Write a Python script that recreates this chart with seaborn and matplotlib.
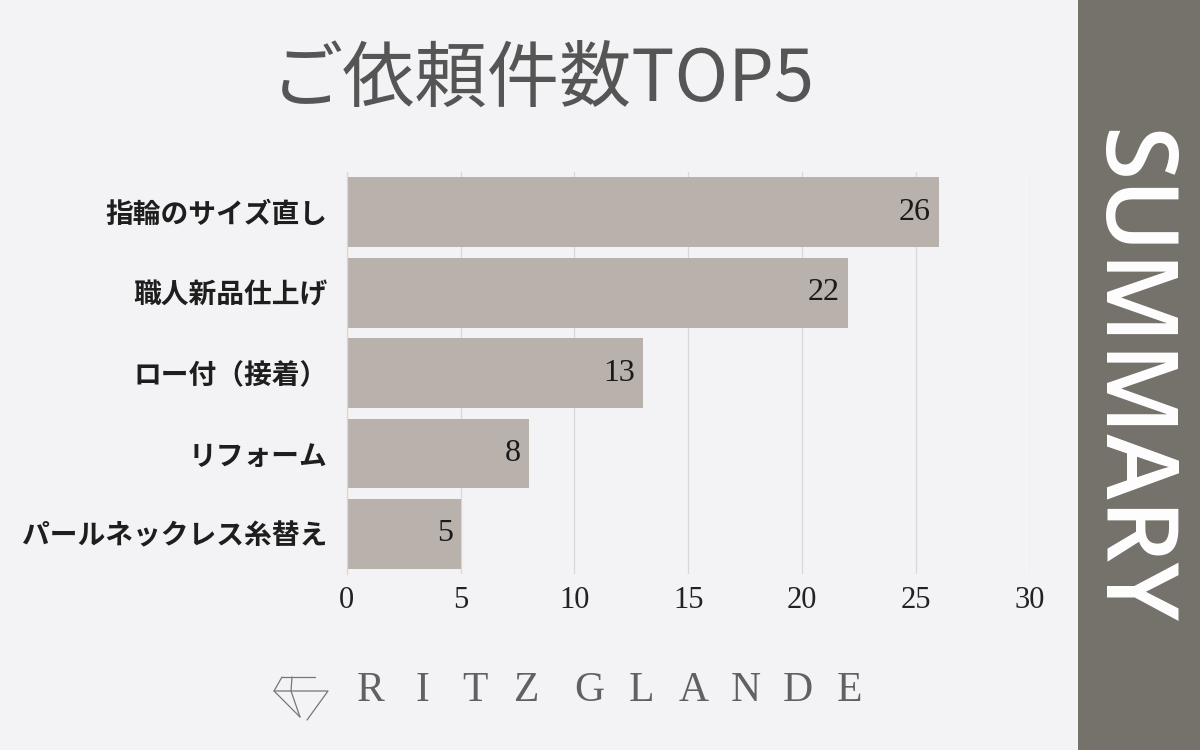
import matplotlib
matplotlib.use("Agg")
import matplotlib.pyplot as plt
from matplotlib.lines import Line2D
from matplotlib.patches import Rectangle
import seaborn as sns
import pandas as pd

# data
categories = ["指輪のサイズ直し", "職人新品仕上げ", "ロー付（接着）", "リフォーム", "パールネックレス糸替え"]
counts = [26, 22, 13, 8, 5]
x_ticks = [0, 5, 10, 15, 20, 25, 30]

title = "ご依頼件数TOP5"
side_label = "SUMMARY"
brand = "RITZ GLANDE"

bg_color = "#f3f2f4"
bar_color = "#b9b1ab"
band_color = "#75716b"

sns.set_theme(style="white")
plt.rcParams["font.family"] = ["Noto Sans CJK JP", "DejaVu Sans"]

df = pd.DataFrame({"item": categories, "count": counts})

fig = plt.figure(figsize=(12, 7.5), dpi=100)
fig.patch.set_facecolor(bg_color)

ax = fig.add_axes([0.289, 0.2347, 0.569, 0.5356])
ax.set_facecolor("none")

sns.barplot(data=df, x="count", y="item", orient="h", color=bar_color,
            saturation=1, width=0.87, linewidth=0, ax=ax, zorder=2)

ax.set_xlim(0, 30)
ax.set_ylim(4.5, -0.5)
ax.set_xticks(x_ticks)
ax.set_xticklabels([str(t) for t in x_ticks], family="Liberation Serif",
                   fontsize=22, color="#222222")
ax.tick_params(axis="x", length=0, pad=9)
ax.tick_params(axis="y", length=0, pad=14)
for lbl in ax.get_yticklabels():
    lbl.set_fontsize(20)
    lbl.set_fontweight("bold")
    lbl.set_color("#1e1e1e")
ax.set_xlabel("")
ax.set_ylabel("")

ax.grid(axis="x", color="#d9d7db", linewidth=0.9, zorder=0)
ax.grid(axis="y", visible=False)
for side in ["top", "right", "bottom"]:
    ax.spines[side].set_visible(False)
ax.spines["left"].set_color("#d9d7db")
ax.spines["left"].set_linewidth(0.9)

# value labels inside the bar ends
for patch in ax.patches:
    w = patch.get_width()
    yc = patch.get_y() + patch.get_height() / 2
    ax.text(w - 0.35, yc, f"{int(round(w))}", ha="right", va="center",
            family="Liberation Serif", fontsize=23, color="#1a1a1a", zorder=3)

# title
fig.text(0.452, 0.893, title, ha="center", va="center", fontsize=52,
         color="#555555", family=["Noto Sans CJK JP", "DejaVu Sans"])

# right side band
fig.add_artist(Rectangle((0.898, 0), 0.102, 1, transform=fig.transFigure,
                         facecolor=band_color, edgecolor="none", zorder=0))
fig.text(0.939, 0.497, side_label, rotation=-90, ha="center", va="center",
         fontsize=71, color="white", family="Open Sans", fontweight="semibold")


# brand logo: small diamond outline and spaced letters
def px_line(xs, ys):
    fig.add_artist(Line2D([x / 1200 for x in xs], [1 - y / 750 for y in ys],
                          transform=fig.transFigure, color="#77757a", linewidth=0.9))


px_line([282, 315], [677, 677])
px_line([282, 274, 328, 307], [677, 691, 691, 720])
px_line([274, 300], [691, 717])
px_line([292, 291, 300], [677, 691, 717])

x0 = 0.309
step = 0.0434
pos = x0
for ch in brand:
    if ch == " ":
        pos += step * 0.2
        continue
    fig.text(pos, 0.0793, ch, ha="center", va="center", fontsize=30,
             color="#626064", family="Liberation Serif")
    pos += step

fig.savefig("out.png", dpi=100, facecolor=fig.get_facecolor())
